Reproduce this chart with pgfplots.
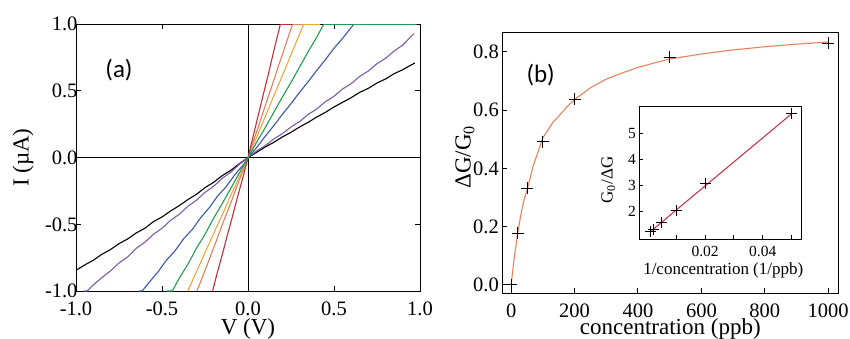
\documentclass[border=0pt]{standalone}
\usepackage{fontspec}
\setmainfont{Liberation Serif}
\newfontfamily\labfont{Carlito}
\usepackage{pgfplots}
\pgfplotsset{compat=1.18}
\definecolor{cpurple}{HTML}{7D5BA6}
\definecolor{cblue}{HTML}{3B58A8}
\definecolor{cgreen}{HTML}{1F9E4E}
\definecolor{cyellow}{HTML}{F2A540}
\definecolor{csalmon}{HTML}{E0805A}
\definecolor{cred}{HTML}{C0303A}
\definecolor{ccurve}{HTML}{E8825E}
\definecolor{cfit}{HTML}{C8364C}
\begin{document}
\begin{tikzpicture}
\begin{axis}[scale only axis, width=344pt, height=266.7pt, at={(76pt,47pt)}, anchor=south west,
  xmin=-1, xmax=1, ymin=-1, ymax=1,
  xtick={-1,-0.5,0,0.5,1}, ytick={-1,-0.5,0,0.5,1},
  tick align=inside, major tick length=5pt, tick style={black, line width=1pt},
  axis line style={line width=1pt},
  /pgf/number format/assume math mode=true,
  xticklabel style={/pgf/number format/.cd, fixed, fixed zerofill, precision=1, /tikz/.cd, inner ysep=0pt, yshift=-10.5pt},
  yticklabel style={/pgf/number format/.cd, fixed, fixed zerofill, precision=1, /tikz/.cd, xshift=5pt},
  tick label style={font=\fontsize{20.5}{20.5}\selectfont},
  label style={font=\fontsize{23}{23}\selectfont},
  xlabel={V (V)}, ylabel={I (µA)},
  xlabel style={at={(axis description cs:0.5,-0.141)}, anchor=center, inner sep=0pt},
  ylabel style={at={(axis description cs:-0.154,0.5)}, anchor=center},
  every axis plot/.append style={line width=1.1pt, no marks}]
\addplot[black, line width=1pt] coordinates {(-1,0)(1,0)};
\addplot[black, line width=1pt] coordinates {(0,-1)(0,1)};
\addplot[black] coordinates {(-1,-0.845)(-0.95,-0.805)(-0.9,-0.77)(-0.85,-0.725)(-0.8,-0.69)(-0.75,-0.645)(-0.7,-0.61)(-0.65,-0.565)(-0.6,-0.53)(-0.55,-0.48)(-0.5,-0.445)(-0.45,-0.4)(-0.4,-0.36)(-0.35,-0.315)(-0.3,-0.275)(-0.25,-0.225)(-0.2,-0.185)(-0.15,-0.135)(-0.1,-0.095)(-0.05,-0.045)(0,0)(0.05,0.04)(0.1,0.08)(0.15,0.115)(0.2,0.155)(0.25,0.19)(0.3,0.23)(0.35,0.265)(0.4,0.305)(0.45,0.34)(0.5,0.38)(0.55,0.415)(0.6,0.45)(0.65,0.49)(0.7,0.52)(0.75,0.56)(0.8,0.59)(0.85,0.63)(0.9,0.66)(0.97,0.71)};
\addplot[cpurple] coordinates {(-0.955,-1)(-0.935,-1)(-0.9,-0.955)(-0.85,-0.9)(-0.8,-0.85)(-0.75,-0.79)(-0.7,-0.745)(-0.65,-0.68)(-0.6,-0.635)(-0.55,-0.575)(-0.5,-0.53)(-0.45,-0.47)(-0.4,-0.425)(-0.35,-0.365)(-0.3,-0.32)(-0.25,-0.26)(-0.2,-0.215)(-0.15,-0.155)(-0.1,-0.11)(-0.05,-0.05)(0,0)(0.05,0.05)(0.1,0.09)(0.15,0.14)(0.2,0.18)(0.25,0.23)(0.3,0.27)(0.35,0.325)(0.4,0.365)(0.45,0.42)(0.5,0.46)(0.55,0.515)(0.6,0.555)(0.65,0.61)(0.7,0.65)(0.75,0.705)(0.8,0.745)(0.85,0.8)(0.9,0.845)(0.965,0.93)};
\addplot[cblue] coordinates {(-0.635,-1)(-0.615,-1)(-0.575,-0.935)(-0.525,-0.86)(-0.475,-0.77)(-0.425,-0.7)(-0.375,-0.61)(-0.325,-0.54)(-0.275,-0.45)(-0.225,-0.375)(-0.175,-0.285)(-0.125,-0.215)(-0.075,-0.125)(-0.025,-0.05)(0,0)(0.05,0.075)(0.1,0.16)(0.15,0.24)(0.2,0.325)(0.25,0.405)(0.3,0.49)(0.35,0.57)(0.4,0.655)(0.45,0.735)(0.5,0.82)(0.55,0.895)(0.615,1)(0.97,1)};
\addplot[csalmon] coordinates {(-0.297,-1)(-0.26,-0.88)(-0.22,-0.745)(-0.18,-0.61)(-0.14,-0.47)(-0.1,-0.34)(-0.06,-0.2)(-0.02,-0.07)(0,0)(0.03,0.12)(0.06,0.23)(0.09,0.35)(0.12,0.465)(0.15,0.58)(0.18,0.7)(0.21,0.81)(0.24,0.93)(0.26,1)(0.42,1)};
\addplot[cyellow] coordinates {(-0.35,-1)(-0.31,-0.885)(-0.27,-0.77)(-0.23,-0.655)(-0.19,-0.54)(-0.15,-0.43)(-0.11,-0.31)(-0.07,-0.2)(-0.03,-0.085)(0,0)(0.04,0.12)(0.08,0.245)(0.12,0.37)(0.16,0.495)(0.2,0.615)(0.24,0.74)(0.28,0.865)(0.324,1)(0.42,1)};
\addplot[cred] coordinates {(-0.206,-1)(-0.18,-0.87)(-0.15,-0.73)(-0.12,-0.58)(-0.09,-0.44)(-0.06,-0.29)(-0.03,-0.15)(0,0)(0.03,0.16)(0.06,0.32)(0.09,0.48)(0.12,0.635)(0.15,0.8)(0.188,1)(0.25,1)};
\addplot[cgreen] coordinates {(-0.475,-1)(-0.44,-1)(-0.4,-0.905)(-0.35,-0.8)(-0.3,-0.68)(-0.25,-0.575)(-0.2,-0.455)(-0.15,-0.345)(-0.1,-0.23)(-0.05,-0.115)(0,0)(0.05,0.115)(0.1,0.225)(0.15,0.34)(0.2,0.455)(0.25,0.565)(0.3,0.68)(0.35,0.795)(0.4,0.905)(0.44,1)(0.98,1)};
\node[font=\labfont\fontsize{25}{25}\selectfont] at (axis cs:-0.75,0.655) {(a)};
\end{axis}

\begin{axis}[scale only axis, width=336pt, height=261pt, at={(502.3pt,44.7pt)}, anchor=south west,
  xmin=-28, xmax=1032, ymin=-0.0285, ymax=0.8665,
  xtick={0,200,400,600,800,1000}, ytick={0,0.2,0.4,0.6,0.8},
  tick align=inside, major tick length=5pt, tick style={black, line width=1pt},
  xtick pos=bottom, ytick pos=left,
  axis line style={line width=1pt},
  /pgf/number format/assume math mode=true,
  /pgf/number format/1000 sep={},
  xticklabel style={inner ysep=0pt, yshift=-10.5pt},
  yticklabel style={/pgf/number format/.cd, fixed, fixed zerofill, precision=1},
  tick label style={font=\fontsize{20.5}{20.5}\selectfont},
  label style={font=\fontsize{23}{23}\selectfont},
  xlabel={concentration (ppb)}, ylabel={ΔG/G\textsubscript{0}},
  xlabel style={at={(axis description cs:0.5,-0.135)}, anchor=center, inner sep=0pt},
  ylabel style={at={(axis description cs:-0.111,0.522)}, anchor=center}]
\addplot[ccurve, line width=1.1pt, no marks] coordinates {(0,0)(5,0.051)(10,0.096)(20,0.174)(30,0.238)(40,0.29)(50,0.325)(70,0.41)(100,0.505)(130,0.555)(150,0.579)(175,0.61)(200,0.636)(250,0.676)(300,0.706)(350,0.727)(400,0.746)(450,0.761)(500,0.775)(600,0.792)(700,0.806)(800,0.817)(900,0.826)(1000,0.833)};
\addplot[black, only marks, mark=+, mark size=6pt, line width=1pt] coordinates {(0,0)(20,0.177)(50,0.332)(100,0.491)(200,0.637)(500,0.781)(1000,0.829)};
\node[font=\labfont\fontsize{25}{25}\selectfont] at (axis cs:93,0.72) {(b)};
\end{axis}

\begin{axis}[scale only axis, width=162.4pt, height=133.3pt, at={(639.3pt,98.7pt)}, anchor=south west,
  xmin=-0.0028, xmax=0.0535, ymin=0.907, ymax=6.05,
  scaled x ticks=false,
  xtick={0.01,0.02,0.03,0.04,0.05}, xticklabels={,0.02,,0.04,},
  ytick={2,3,4,5},
  tick align=inside, major tick length=4pt, tick style={black, line width=0.9pt},
  xtick pos=bottom, ytick pos=left,
  axis line style={line width=1pt},
  /pgf/number format/assume math mode=true,
  xticklabel style={yshift=-3pt},
  tick label style={font=\fontsize{15.5}{15.5}\selectfont},
  label style={font=\fontsize{17}{17}\selectfont},
  xlabel={1/concentration (1/ppb)}, ylabel={G\textsubscript{0}/ΔG},
  xlabel style={at={(axis description cs:0.517,-0.23)}, anchor=center},
  ylabel style={at={(axis description cs:-0.191,0.445)}, anchor=center}]
\addplot[cfit, line width=1.1pt, no marks] coordinates {(0.001,1.2)(0.05,5.75)};
\addplot[black, only marks, mark=+, mark size=5.5pt, line width=1pt] coordinates {(0.001,1.2)(0.002,1.3)(0.005,1.57)(0.01,2.0)(0.02,3.06)(0.05,5.76)};
\end{axis}
\pgfresetboundingbox
\useasboundingbox (0,0) rectangle (850pt,338pt);
\end{tikzpicture}
\end{document}
